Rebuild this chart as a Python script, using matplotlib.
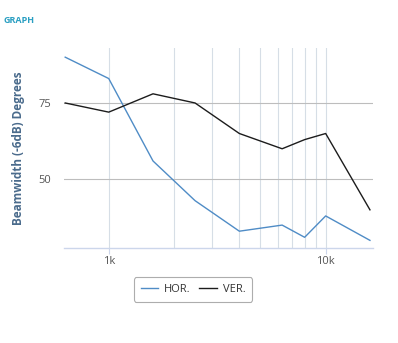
import matplotlib.pyplot as plt
from matplotlib import ticker

freqs = [630, 1000, 1600, 2500, 4000, 6300, 8000, 10000, 16000]
hor = [90, 83, 56, 43, 33, 35, 31, 38, 30]
ver = [75, 72, 78, 75, 65, 60, 63, 65, 40]

plt.rcParams['font.family'] = ['Open Sans', 'DejaVu Sans']

fig = plt.figure(figsize=(3.98, 3.43), dpi=100)
ax = fig.add_axes([0.1608, 0.277, 0.776, 0.583])

ax.plot(freqs, hor, color='#4f8cc6', linewidth=1.0, label='HOR.')
ax.plot(freqs, ver, color='#1c1c1c', linewidth=1.0, label='VER.')

ax.set_xscale('log')
ax.set_xlim(622, 16500)
ax.set_ylim(27.5, 93)

# vertical grid on every 1k step, ticks/labels only at decades
ax.xaxis.set_major_locator(ticker.FixedLocator([1000, 10000]))
ax.xaxis.set_major_formatter(ticker.FuncFormatter(lambda v, p: f"{int(v/1000)}k"))
ax.xaxis.set_minor_locator(ticker.FixedLocator([2000, 3000, 4000, 5000, 6000, 7000, 8000, 9000]))
ax.xaxis.set_minor_formatter(ticker.NullFormatter())
ax.grid(True, which='both', axis='x', color='#d6dee6', linewidth=0.8)

ax.yaxis.set_major_locator(ticker.FixedLocator([50, 75]))
ax.grid(True, axis='y', color='#bdbdbd', linewidth=0.8)
ax.set_axisbelow(True)

for s in ['top', 'right', 'left']:
    ax.spines[s].set_visible(False)
ax.spines['bottom'].set_color('#ccd6eb')
ax.spines['bottom'].set_linewidth(1.0)

ax.tick_params(axis='x', which='major', length=4, color='#ccd6eb', labelsize=8, labelcolor='#555555', pad=2)
ax.tick_params(axis='x', which='minor', length=0)
ax.tick_params(axis='y', length=0, labelsize=8, labelcolor='#555555', pad=9)

ax.set_ylabel('Beamwidth (-6dB) Degrees', fontsize=8.5, color='#4a6b8c', fontweight='bold', labelpad=10)

fig.text(0.008, 0.94, 'GRAPH', fontsize=6.5, color='#2a9fc2', fontweight='bold', ha='left', va='center')

leg = fig.legend(loc='center', bbox_to_anchor=(0.485, 0.156), ncol=2, frameon=True, fancybox=True,
                 fontsize=8, handlelength=1.6, handletextpad=0.5, columnspacing=0.8,
                 borderpad=0.6, edgecolor='#999999')
leg.get_frame().set_linewidth(0.8)
for t in leg.get_texts():
    t.set_color('#333333')

fig.savefig('out.png', dpi=100)
